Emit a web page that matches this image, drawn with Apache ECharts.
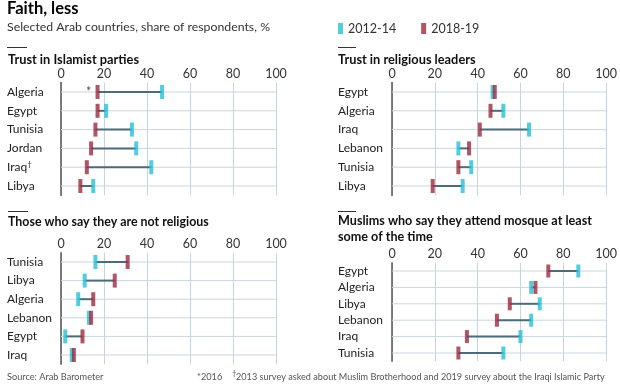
<!DOCTYPE html>
<html><head><meta charset="utf-8">
<script src="https://cdn.jsdelivr.net/npm/echarts@6/dist/echarts.min.js"></script>
<style>html,body{margin:0;padding:0;background:#fff}#c{width:620px;height:385px}</style>
</head><body><div id="c"></div>
<script>
const tickValues = [0, 20, 40, 60, 80, 100];

const islamistCountries = ['Algeria', 'Egypt', 'Tunisia', 'Jordan', 'Iraq†', 'Libya'];
const islamist2012 = [47, 21, 33, 35, 42, 15];
const islamist2018 = [17, 17, 16, 14, 12, 9];

const leadersCountries = ['Egypt', 'Algeria', 'Iraq', 'Lebanon', 'Tunisia', 'Libya'];
const leaders2012 = [47, 52, 64, 31, 37, 33];
const leaders2018 = [48, 46, 41, 36, 31, 19];

const notReligiousCountries = ['Tunisia', 'Libya', 'Algeria', 'Lebanon', 'Egypt', 'Iraq'];
const notReligious2012 = [16, 11, 8, 13, 2, 5];
const notReligious2018 = [31, 25, 15, 14, 10, 6];

const mosqueCountries = ['Egypt', 'Algeria', 'Libya', 'Lebanon', 'Iraq', 'Tunisia'];
const mosque2012 = [87, 65, 69, 65, 60, 52];
const mosque2018 = [73, 67, 55, 49, 35, 31];

const FONT = 'Lato';
const CYAN = '#25c1d7';
const RED = '#9e2a40';
const GRID = '#c9d5de';
const CONN = '#4d6b7b';

const panels = [
  { cats: islamistCountries, a: islamist2012, b: islamist2018, grid: { left: 61, top: 82.6, width: 215, height: 112.8 }, labelX: 7, size: [4, 14], star: 0 },
  { cats: leadersCountries, a: leaders2012, b: leaders2018, grid: { left: 392, top: 82.6, width: 215, height: 112.8 }, labelX: 338, size: [4, 14] },
  { cats: notReligiousCountries, a: notReligious2012, b: notReligious2018, grid: { left: 61, top: 252.7, width: 215, height: 111.6 }, labelX: 7, size: [4, 14] },
  { cats: mosqueCountries, a: mosque2012, b: mosque2018, grid: { left: 392, top: 262.8, width: 215, height: 98.4 }, labelX: 338, size: [4, 13] }
];

const grid = [], xAxis = [], yAxis = [], series = [];
panels.forEach((p, i) => {
  grid.push(Object.assign({}, p.grid));
  xAxis.push({
    gridIndex: i, type: 'value', position: 'top',
    min: tickValues[0], max: tickValues[tickValues.length - 1], interval: tickValues[1] - tickValues[0],
    axisLine: { show: false }, axisTick: { show: false },
    axisLabel: { fontFamily: FONT, fontSize: 12.5, color: '#333', margin: 2 },
    splitLine: { show: true, lineStyle: { color: GRID, width: 1 } }
  });
  yAxis.push({
    gridIndex: i, type: 'category', data: p.cats, inverse: true,
    axisTick: { show: false },
    axisLine: { show: true, lineStyle: { color: '#555', width: 1.5 } },
    axisLabel: {
      interval: 0,
      fontFamily: FONT, fontSize: 12, color: '#222', align: 'left',
      margin: p.grid.left - p.labelX,
      formatter: v => v.indexOf('†') >= 0 ? v.replace('†', '') + '{s|†}' : v,
      rich: { s: { fontFamily: FONT, fontSize: 8, color: '#222', verticalAlign: 'top', padding: [0, 0, 6, 0] } }
    },
    splitLine: { show: false }
  });
  series.push({
    type: 'custom', xAxisIndex: i, yAxisIndex: i,
    data: p.cats.map((c, j) => [p.a[j], p.b[j], j]),
    encode: { x: [0, 1], y: 2 },
    silent: true, z: 1,
    renderItem: (params, api) => {
      const j = api.value(2);
      const r0 = api.coord([tickValues[0], j]);
      const r1 = api.coord([tickValues[tickValues.length - 1], j]);
      const c0 = api.coord([api.value(0), j]);
      const c1 = api.coord([api.value(1), j]);
      return {
        type: 'group', children: [
          { type: 'line', shape: { x1: r0[0], y1: r0[1], x2: r1[0], y2: r1[1] }, style: { stroke: GRID, lineWidth: 1 } },
          { type: 'line', shape: { x1: c0[0], y1: c0[1], x2: c1[0], y2: c1[1] }, style: { stroke: CONN, lineWidth: 2 } }
        ]
      };
    }
  });
  series.push({
    name: '2012-14', type: 'scatter', xAxisIndex: i, yAxisIndex: i, z: 3,
    symbol: 'rect', symbolSize: p.size, itemStyle: { color: CYAN },
    data: p.a.map((v, j) => [v, j])
  });
  series.push({
    name: '2018-19', type: 'scatter', xAxisIndex: i, yAxisIndex: i, z: 4,
    symbol: 'rect', symbolSize: p.size, itemStyle: { color: RED },
    data: p.b.map((v, j) => {
      const d = { value: [v, j] };
      if (p.star === j) d.label = { show: true, formatter: '*', position: 'left', distance: 4, fontFamily: FONT, fontSize: 13, color: '#222' };
      return d;
    })
  });
});

const T = (x, y, text, font, fill) => ({ type: 'text', x, y, silent: true, style: { text, font, fill: fill || '#111', verticalAlign: 'middle', align: 'left' } });
const L = (x1, x2, y) => ({ type: 'line', silent: true, shape: { x1, y1: y, x2, y2: y }, style: { stroke: '#333', lineWidth: 1 } });

const graphic = [
  T(7, 9, 'Faith, less', 'bold 16.5px ' + FONT, '#000'),
  T(7, 27, 'Selected Arab countries, share of respondents, %', '12.3px ' + FONT, '#333'),
  L(7, 27, 47.5), T(8, 60, 'Trust in Islamist parties', 'bold 12.8px ' + FONT),
  L(338, 356, 47.5), T(338, 60, 'Trust in religious leaders', 'bold 12.8px ' + FONT),
  L(8, 28, 211.5), T(8, 222, 'Those who say they are not religious', 'bold 12.4px ' + FONT),
  L(338, 356, 211.5), T(338, 221, 'Muslims who say they attend mosque at least', 'bold 12.6px ' + FONT),
  T(338, 237, 'some of the time', 'bold 12.6px ' + FONT),
  T(7, 377, 'Source: Arab Barometer', '9.2px ' + FONT, '#555'),
  T(197, 377, '*2016', '9.2px ' + FONT, '#555'),
  T(232, 374, '†', '7.5px ' + FONT, '#555'),
  T(236, 377, '2013 survey asked about Muslim Brotherhood and 2019 survey about the Iraqi Islamic Party', '9.15px ' + FONT, '#555')
];

const chart = echarts.init(document.getElementById('c'), null, { renderer: 'canvas' });
chart.setOption({
  animation: false,
  backgroundColor: '#fff',
  legend: {
    data: ['2012-14', '2018-19'], left: 333, top: 17,
    icon: 'rect', itemWidth: 5, itemHeight: 11, itemGap: 25,
    selectedMode: false,
    textStyle: { fontFamily: FONT, fontSize: 12.5, color: '#333' }
  },
  grid, xAxis, yAxis, series, graphic
});
</script>
</body></html>
